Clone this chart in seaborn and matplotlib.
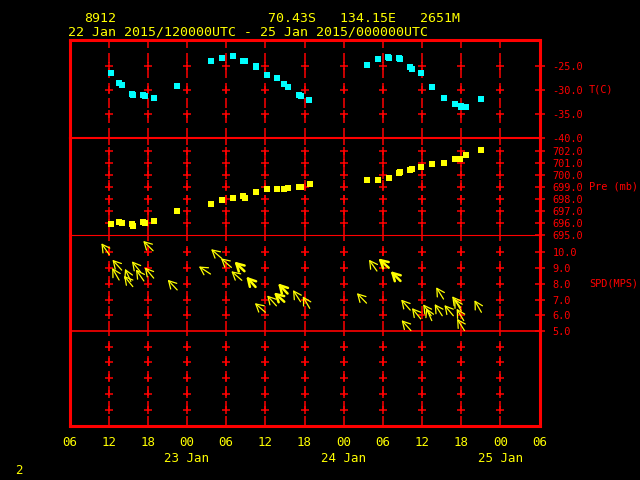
import matplotlib
matplotlib.use('Agg')
import matplotlib.pyplot as plt
import matplotlib.transforms as mtrans
import seaborn as sns
import numpy as np
import pandas as pd

RED = '#ff0000'
YEL = '#ffff00'
CYAN = '#00ffff'

# time axis: hours since 22 Jan 2015 00UTC
t_hours = [12.3, 13.6, 14.1, 15.6, 15.8, 17.3, 17.5, 18.9, 22.5,
           27.7, 29.4, 31.0, 32.6, 32.9, 34.5, 34.6, 36.2, 37.8, 38.9, 39.5,
           41.2, 41.4, 42.7,
           51.5, 53.2, 54.8, 55.0, 56.5, 56.7, 58.2, 58.4, 59.9, 61.6, 63.3,
           65.0, 65.9, 66.0, 66.8, 69.1]
t_vals = [-26.5, -28.5, -29.0, -30.8, -31.0, -31.0, -31.3, -31.7, -29.2,
          -24.0, -23.3, -22.9, -24.0, -24.0, -25.0, -25.2, -26.9, -27.5, -28.8, -29.4,
          -31.0, -31.3, -32.1,
          -24.8, -23.5, -23.1, -23.3, -23.3, -23.5, -25.2, -25.6, -26.5, -29.4, -31.7,
          -32.9, -33.3, -33.5, -33.5, -31.9]

p_hours = [12.3, 13.6, 14.1, 15.6, 15.8, 17.3, 17.5, 18.9, 22.5,
           27.7, 29.4, 31.0, 32.6, 32.9, 34.5, 36.2, 37.8, 38.9, 39.5,
           41.2, 41.4, 42.8,
           51.5, 53.2, 54.9, 56.5, 56.7, 58.2, 58.4, 59.9, 61.6, 63.3,
           65.0, 65.8, 66.7, 69.1]
p_vals = [695.94, 696.11, 696.03, 695.94, 695.78, 696.11, 696.00, 696.19, 697.03,
          697.61, 697.94, 698.11, 698.28, 698.11, 698.61, 698.86, 698.86, 698.86, 698.94,
          699.03, 699.03, 699.28,
          699.61, 699.61, 699.78, 700.19, 700.28, 700.44, 700.53, 700.69, 700.94, 701.03,
          701.36, 701.36, 701.69, 702.11]

w_hours = [12.1, 18.8, 14.0, 13.6, 15.4, 15.7, 16.9, 17.4, 18.9, 22.5,
           29.3, 27.6, 30.8, 32.8, 32.4, 34.5, 36.0, 37.7, 38.9, 39.4, 41.4, 42.8,
           51.5, 53.1, 54.9, 56.7, 58.2, 58.3, 59.8, 61.5, 61.4, 63.3, 63.1, 64.8,
           65.9, 66.0, 66.4, 66.5, 69.1]
w_speed = [9.85, 10.1, 8.87, 8.24, 8.15, 7.82, 8.74, 8.18, 8.36, 7.61,
           9.62, 8.62, 9.04, 8.80, 8.22, 7.80, 6.19, 6.60, 6.86, 7.38, 6.86, 6.44,
           6.77, 8.81, 9.02, 8.18, 6.33, 5.03, 5.77, 5.66, 5.97, 7.03, 5.97, 5.97,
           6.50, 6.29, 5.66, 5.03, 6.19]
# direction the wind blows from (deg)
w_dir = [145, 135, 138, 150, 155, 141, 141, 145, 140, 137,
         131, 123, 131, 134, 131, 138, 131, 138, 132, 137, 147, 150,
         136, 145, 132, 135, 139, 138, 141, 156, 145, 148, 147, 140,
         143, 150, 149, 148, 150]
w_bold = [0, 0, 0, 0, 0, 0, 0, 0, 0, 0,
          0, 0, 0, 1, 0, 1, 0, 0, 1, 1, 0, 0,
          0, 0, 1, 1, 0, 0, 0, 0, 0, 0, 0, 0,
          0, 0, 0, 0, 0]

xticks = np.arange(6, 79, 6)
xticklabels = ['06', '12', '18', '00', '06', '12', '18', '00', '06', '12', '18', '00', '06']
grid_hours = xticks[1:-1]
day_pos = [24, 48, 72]
day_labels = ['23 Jan', '24 Jan', '25 Jan']

t_ticks = [-25, -30, -35, -40]
p_ticks = [702, 701, 700, 699, 698, 697, 696, 695]
s_ticks = [10, 9, 8, 7, 6, 5]
b_ticks = [4, 3, 2, 1, 0]

sns.set_theme(style='dark', rc={'axes.facecolor': 'black', 'figure.facecolor': 'black',
                                'savefig.facecolor': 'black'})
plt.rcParams['font.family'] = ['DejaVu Sans Mono']
plt.rcParams['lines.scale_dashes'] = False

W, H = 640, 480
fig = plt.figure(figsize=(6.4, 4.8), dpi=100)


def panel(top, bottom):
    ax = fig.add_axes([69.5 / W, 1 - bottom / H, 470 / W, (bottom - top) / H])
    ax.set_facecolor('none')  # keep the neighbour's spine visible
    ax.set_xlim(6, 78)
    ax.grid(False)
    for s in ax.spines.values():
        s.set_color(RED)
    ax.spines['left'].set_linewidth(2.2)
    ax.spines['right'].set_linewidth(2.2)
    ax.spines['top'].set_visible(False)
    ax.set_xticks(xticks)
    ax.tick_params(axis='x', length=0, labelbottom=False)
    return ax


ax_t = panel(40, 138)
ax_p = panel(138, 235)
ax_s = panel(235, 331)
ax_b = panel(331, 426)

ax_t.spines['top'].set_visible(True)
ax_t.spines['top'].set_linewidth(2.2)
ax_t.spines['bottom'].set_linewidth(1.5)
ax_p.spines['bottom'].set_linewidth(0.8)
ax_s.spines['bottom'].set_linewidth(1.2)
ax_b.spines['bottom'].set_linewidth(2.2)

ax_t.set_ylim(-40, -19.6)
ax_p.set_ylim(695, 703.08)
ax_s.set_ylim(5, 11.1)
ax_b.set_ylim(-1.05, 5)

panels = [(ax_t, t_ticks, 'T(C)', -30), (ax_p, p_ticks, 'Pre (mb)', 699),
          (ax_s, s_ticks, 'SPD(MPS)', 8), (ax_b, b_ticks, None, None)]
for ax, ticks, name, name_y in panels:
    lo, hi = ax.get_ylim()
    ax.vlines(grid_hours, lo, hi, colors=RED, linestyles=(0, (7.2, 3.6)), linewidth=1.1)
    inner = [v for v in ticks if lo < v < hi]
    gx, gy = np.meshgrid(grid_hours, inner)
    ax.plot(gx.ravel(), gy.ravel(), linestyle='none', marker='+', markersize=6,
            markeredgewidth=1.1, color=RED)
    ax.yaxis.tick_right()
    if name is None:
        ax.set_yticks([])
        continue
    ax.set_yticks(ticks)
    ax.set_yticklabels([f'{v:.1f}' for v in ticks])
    ax.tick_params(axis='y', direction='inout', length=7, width=1.1, color=RED,
                   labelcolor=RED, labelsize=7.4, pad=6)
    tr = mtrans.blended_transform_factory(ax.transAxes, ax.transData)
    ax.text(1.105, name_y, name, transform=tr, color=RED, fontsize=7.4,
            va='center', ha='left')

sns.scatterplot(x=t_hours, y=t_vals, ax=ax_t, marker='s', s=16, color=CYAN,
                linewidth=0, zorder=5)
sns.scatterplot(x=p_hours, y=p_vals, ax=ax_p, marker='s', s=18, color=YEL,
                linewidth=0, zorder=5)

L = 10.0  # arrow length, points
for h, s, d, b in zip(w_hours, w_speed, w_dir, w_bold):
    toward = np.deg2rad(d + 180)
    ax_s.annotate('', xy=(h, s), xytext=(L * np.sin(toward), L * np.cos(toward)),
                  textcoords='offset points', annotation_clip=False,
                  arrowprops=dict(arrowstyle='<-,head_length=0.45,head_width=0.25',
                                  color=YEL, lw=1.8 if b else 0.9,
                                  shrinkA=0, shrinkB=0), zorder=6)

ax_b.tick_params(axis='x', labelbottom=True, labelcolor=YEL, labelsize=9, pad=7.5)
ax_b.set_xticklabels(xticklabels)
trd = mtrans.blended_transform_factory(ax_b.transData, fig.transFigure)
for pos, lab in zip(day_pos, day_labels):
    ax_b.text(pos, 1 - 458 / H, lab, transform=trd, color=YEL, fontsize=9,
              ha='center', va='center')

fig.text(84 / W, 1 - 18 / H, '8912', color=YEL, fontsize=9.5, va='center')
fig.text(268 / W, 1 - 18 / H, '70.43S   134.15E   2651M', color=YEL, fontsize=9.5,
         va='center')
fig.text(68 / W, 1 - 32 / H, '22 Jan 2015/120000UTC - 25 Jan 2015/000000UTC',
         color=YEL, fontsize=9.5, va='center')
fig.text(15 / W, 1 - 471 / H, '2', color=YEL, fontsize=9, va='center')

fig.savefig('out.png', dpi=100, facecolor='black')
